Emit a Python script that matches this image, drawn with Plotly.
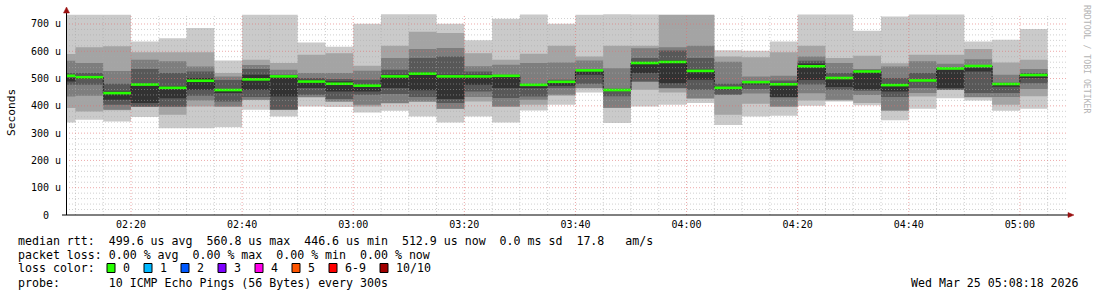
import plotly.graph_objects as go
import pandas as pd

# ---------------- data ----------------
# end time of each 5-minute consolidation step (first step is partial)
bar_end = list(pd.date_range("2026-03-25 02:10:00", "2026-03-25 05:05:00", freq="5min"))
step = pd.Timedelta(minutes=5)

# sorted ping times per step (microseconds), p1 = fastest ... p10 = slowest
p1  = [339,349,343,359,318,318,322,386,361,398,396,376,382,361,339,361,339,383,404,449,337,398,404,410,330,361,364,400,416,402,347,389,428,420,382,389]
p2  = [392,379,384,396,367,398,397,421,385,431,415,398,409,415,388,416,397,404,437,464,392,459,449,426,367,408,397,420,420,410,382,434,458,431,404,435]
p3  = [434,437,386,397,396,420,398,422,386,432,416,404,410,416,389,432,398,422,441,465,393,488,464,428,440,445,398,446,422,440,383,447,459,432,432,462]
p4  = [477,477,404,398,398,437,416,432,387,441,425,441,443,432,410,453,429,434,465,481,435,489,465,459,442,462,431,478,459,455,432,465,460,447,447,483]
p5  = [489,498,422,410,428,459,447,459,434,465,453,453,465,457,425,477,465,465,474,514,455,520,483,496,460,478,432,495,469,461,453,489,465,526,470,502]
p6  = [502,508,453,481,471,502,462,514,508,496,490,478,514,523,514,514,512,472,484,528,458,557,566,532,464,482,483,555,498,530,481,495,533,540,478,508]
p7  = [520,520,481,535,520,526,495,535,514,502,498,496,532,575,581,526,514,481,496,532,463,575,603,575,481,490,493,565,520,532,502,520,538,550,485,520]
p8  = [565,557,528,569,563,544,508,550,532,520,520,529,575,608,612,545,551,557,559,566,538,611,615,620,562,508,510,581,557,534,544,563,554,571,514,535]
p9  = [590,615,618,596,596,596,520,569,557,587,593,547,620,672,667,593,569,591,620,581,620,620,733,733,581,578,596,620,575,584,556,587,587,608,559,569]
p10 = [734,734,734,636,648,685,566,734,734,632,617,701,736,736,701,640,719,735,701,734,736,735,735,735,604,602,636,735,735,675,727,735,735,636,642,682]
median = [510,505,446.6,478,466,492,458,497,508,489,481,474,508,518,508,508,510,477,488,530,458,557,560.8,528,466,487,479,545,502,526,476,493,537,546,480,512.9]

y_tickvals = [0, 100, 200, 300, 400, 500, 600, 700]
y_ticktext = ["0\u00a0\u00a0", "100 u", "200 u", "300 u", "400 u", "500 u", "600 u", "700 u"]
x_tickvals = ["2026-03-25 02:20", "2026-03-25 02:40", "2026-03-25 03:00", "2026-03-25 03:20",
              "2026-03-25 03:40", "2026-03-25 04:00", "2026-03-25 04:20", "2026-03-25 04:40",
              "2026-03-25 05:00"]
x_ticktext = ["02:20", "02:40", "03:00", "03:20", "03:40", "04:00", "04:20", "04:40", "05:00"]

legend_lines = [
    "median rtt:  499.6 us avg  560.8 us max  446.6 us min  512.9 us now  0.0 ms sd  17.8   am/s",
    "packet loss: 0.00 % avg  0.00 % max  0.00 % min  0.00 % now",
    "loss color:",
    "probe:       10 ICMP Echo Pings (56 Bytes) every 300s",
]
loss_labels = ["0", "1", "2", "3", "4", "5", "6-9", "10/10"]
loss_colors = ["#26ff00", "#00b8ff", "#0059ff", "#7e00ff", "#ff00ea", "#ff5500", "#ff0000", "#a10000"]
date_text = "Wed Mar 25 05:08:18 2026"
watermark = "RRDTOOL / TOBI OETIKER"

# ---------------- geometry ----------------
W, H = 1097, 297
ML, MR, MT, MB = 66, 31, 14, 82
PW, PH = W - ML - MR, H - MT - MB
YMAX = 736.6
X0 = pd.Timestamp("2026-03-25 02:08:18")
X1 = pd.Timestamp("2026-03-25 05:08:18")

def px(xp):
    return (xp - ML) / PW

def py(yp):
    return (H - MB - yp) / PH

MONO = "DejaVu Sans Mono"

# ---------------- traces ----------------
starts = [e - step for e in bar_end]
xs = starts + [bar_end[-1]]

def ext(v):
    return list(v) + [v[-1]]

fig = go.Figure()
pings = [p1, p2, p3, p4, p5, p6, p7, p8, p9, p10]
smoke_cols = ["#cacaca", "#a4a4a4", "#7e7e7e", "#585858", "#323232"]
for k in range(5):
    lo = pings[k]
    hi = pings[9 - k]
    fig.add_trace(go.Scatter(x=xs, y=ext(lo), mode="lines", line=dict(width=0, shape="hv"),
                             hoverinfo="skip", showlegend=False))
    fig.add_trace(go.Scatter(x=xs, y=ext(hi), mode="lines", line=dict(width=0, shape="hv"),
                             fill="tonexty", fillcolor=smoke_cols[k], hoverinfo="skip",
                             showlegend=False))

# black median step line
fig.add_trace(go.Scatter(x=xs, y=ext(median), mode="lines",
                         line=dict(color="#202020", width=1, shape="hv"),
                         hoverinfo="skip", showlegend=False))
# green loss-coloured median segments
gx, gy = [], []
for s, e, m in zip(starts, bar_end, median):
    gx += [s, e, None]
    gy += [m, m, None]
fig.add_trace(go.Scatter(x=gx, y=gy, mode="lines", line=dict(color=loss_colors[0], width=2.6),
                         hoverinfo="skip", showlegend=False))

# ---------------- grid (drawn above smoke, like rrdtool) ----------------
shapes = []
minor_col = "rgba(170,170,170,0.55)"
major_col = "rgba(225,110,110,0.6)"
t = pd.Timestamp("2026-03-25 02:10:00")
while t < X1:
    major = (t.minute % 20 == 0)
    shapes.append(dict(type="line", xref="x", yref="paper", x0=t, x1=t, y0=0, y1=1,
                       line=dict(color=major_col if major else minor_col, width=1, dash="1px,2px"),
                       layer="above"))
    t += step
for v in range(20, int(YMAX), 20):
    major = (v % 100 == 0)
    shapes.append(dict(type="line", xref="paper", yref="y", x0=0, x1=1, y0=v, y1=v,
                       line=dict(color=major_col if major else minor_col, width=1, dash="1px,2px"),
                       layer="above"))

# axis extensions and arrows
arrow_col = "#9a1010"
shapes.append(dict(type="line", xref="paper", yref="paper", x0=px(62), x1=px(1069), y0=0, y1=0,
                   line=dict(color="black", width=1), layer="above"))
shapes.append(dict(type="path", xref="paper", yref="paper",
                   path=f"M {px(1068)},{py(212.5)} L {px(1068)},{py(217.5)} L {px(1074)},{py(215)} Z",
                   fillcolor=arrow_col, line=dict(color=arrow_col, width=0.5), layer="above"))
shapes.append(dict(type="line", xref="paper", yref="paper", x0=px(66.5), x1=px(66.5), y0=0, y1=py(12),
                   line=dict(color="black", width=1), layer="above"))
shapes.append(dict(type="path", xref="paper", yref="paper",
                   path=f"M {px(63.5)},{py(13)} L {px(69.5)},{py(13)} L {px(66.5)},{py(7)} Z",
                   fillcolor=arrow_col, line=dict(color=arrow_col, width=0.5), layer="above"))

# ---------------- legend text ----------------
annotations = []
def txt(s, x, y, size=11.6, anchor="left", color="#000000", angle=0):
    annotations.append(dict(text=s.replace(" ", "\u00a0"), x=px(x), y=py(y), xref="paper", yref="paper",
                            xanchor=anchor, yanchor="middle", showarrow=False, textangle=angle,
                            font=dict(family=MONO, size=size, color=color)))

row_y = [241, 255, 268, 283]
for line, yy in zip(legend_lines, row_y):
    txt(line, 16, yy)
txt(date_text, 1081, 283, anchor="right")

bx = 107
for lab, col in zip(loss_labels, loss_colors):
    shapes.append(dict(type="rect", xref="paper", yref="paper", x0=px(bx), x1=px(bx + 8),
                       y0=py(272.5), y1=py(263.5), fillcolor=col, line=dict(color="black", width=1),
                       layer="above"))
    txt(lab, bx + 14, 268)
    bx += 14 + 7 * len(lab) + 16

# axis title and watermark
txt("Seconds", 11, 113, size=11.2, anchor="center", angle=-90)
txt(watermark, 1087, 59, size=8.2, anchor="center", color="#b4b4b4", angle=90)

fig.update_layout(
    width=W, height=H,
    margin=dict(l=ML, r=MR, t=MT, b=MB, pad=0),
    paper_bgcolor="white", plot_bgcolor="white",
    showlegend=False,
    shapes=shapes, annotations=annotations,
    xaxis=dict(type="date", range=[X0, X1], tickvals=x_tickvals, ticktext=x_ticktext,
               showgrid=False, zeroline=False, showline=False, ticks="",
               tickfont=dict(family=MONO, size=10, color="#000000"), ticklabelstandoff=2),
    yaxis=dict(range=[0, YMAX], tickvals=y_tickvals, ticktext=y_ticktext,
               showgrid=False, zeroline=False, showline=False, ticks="",
               tickfont=dict(family=MONO, size=10, color="#000000"), ticklabelstandoff=4),
)

fig.write_html("out.html")
